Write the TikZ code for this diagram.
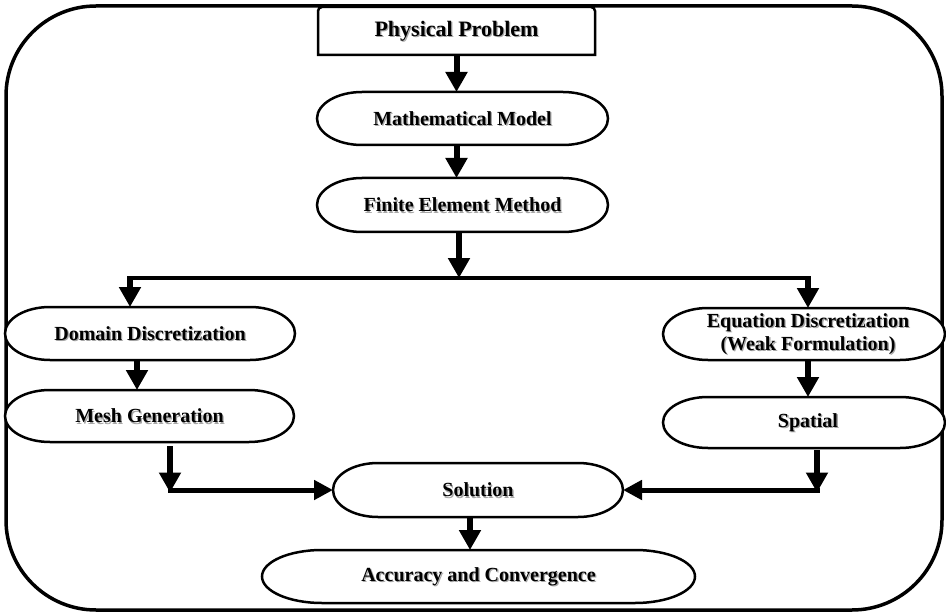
\documentclass[tikz,border=0pt]{standalone}
\usepackage{fontspec}
\setmainfont{Liberation Serif}
\usetikzlibrary{arrows.meta,calc}
\tikzset{
  lbl/.style={font=\bfseries\fontsize{20}{23}\selectfont, align=center, inner sep=0pt, outer sep=0pt},
  shadowtxt/.style={lbl, text=black!35, xshift=1.3pt, yshift=-1.3pt},
  boxline/.style={line width=2.5pt, fill=white},
  frame/.style={line width=3.5pt, rounded corners=90pt},
  arr/.style={line width=6pt, -{Triangle[length=20pt,width=21pt]}},
  harr/.style={line width=5pt, -{Triangle[length=19pt,width=19pt]}},
  bus/.style={line width=3.5pt},
}
\newcommand\stadium[2]{%
  \draw[boxline] let \p1=(#1.north east), \p2=(#1.south west), \n1={(\y1-\y2)/2} in
  (\x2+#2,\y1) -- (\x1-#2,\y1) arc[start angle=90,end angle=-90,x radius=#2,y radius=\n1]
  -- (\x2+#2,\y2) arc[start angle=270,end angle=90,x radius=#2,y radius=\n1] -- cycle;}
\newcommand\lab[3][]{%
  \node[shadowtxt,#1] at (#2) {#3};
  \node[lbl,#1] at (#2) {#3};}
\begin{document}
\begin{tikzpicture}[x=1pt,y=1pt]
\useasboundingbox (0,0) rectangle (946,-615);
\draw[frame] (6,-6) rectangle (942,-610);

% nodes
\node[lbl, minimum width=277pt, minimum height=48pt] (pp)  at (456.5,-31)   {};
\node[lbl, minimum width=291pt, minimum height=53pt] (mm)  at (462.5,-118.5){};
\node[lbl, minimum width=291pt, minimum height=54pt] (fem) at (462.5,-205)  {};
\node[lbl, minimum width=290pt, minimum height=53pt] (dd)  at (150,-333.5)  {};
\node[lbl, minimum width=289pt, minimum height=52pt] (mg)  at (149.5,-416)  {};
\node[lbl, minimum width=282pt, minimum height=52pt] (ed)  at (804,-334)    {};
\node[lbl, minimum width=282pt, minimum height=51pt] (sp)  at (804,-422.5)  {};
\node[lbl, minimum width=290pt, minimum height=54pt] (sol) at (478,-490)    {};
\node[lbl, minimum width=433pt, minimum height=53pt] (acc) at (478.5,-576.5){};

% shapes
\draw[boxline, rounded corners=4pt] (pp.south west) -- (pp.north west) -- (pp.north east) [sharp corners] -- (pp.south east) -- cycle;
\stadium{mm}{45pt}
\stadium{fem}{45pt}
\stadium{dd}{45pt}
\stadium{mg}{45pt}
\stadium{ed}{45pt}
\stadium{sp}{45pt}
\stadium{sol}{45pt}
\stadium{acc}{60pt}

% texts
\lab[font=\bfseries\fontsize{22}{25}\selectfont]{pp}{Physical Problem}
\lab{mm}{Mathematical Model}
\lab{fem}{Finite Element Method}
\lab{dd}{Domain Discretization}
\lab{mg}{Mesh Generation}
\lab[xshift=4pt]{ed}{Equation Discretization\\(Weak Formulation)}
\lab[xshift=4pt]{sp}{Spatial}
\lab{sol}{Solution}
\lab{acc}{Accuracy and Convergence}

% connectors
\coordinate (jc) at (459,-278);
\coordinate (jl) at (130,-278);
\coordinate (jr) at (808,-278);
\coordinate (cl) at (170,-490);
\coordinate (cr) at (817,-490);

\draw[arr] (pp.south) -- (pp.south |- mm.north);
\draw[arr] (mm.south -| pp.south) -- (pp.south |- fem.north);
\draw[arr] (fem.south -| jc) -- (jc);
\draw[bus] (jl) -- (jr);
\draw[arr] ([yshift=1.75pt]jl) -- (jl |- dd.north);
\draw[arr] ([yshift=1.75pt]jr) -- (jr |- ed.north);
\draw[arr] (dd.south -| 137,0) -- (mg.north -| 137,0);
\draw[arr] (ed.south -| jr) -- (sp.north -| jr);
\draw[arr] ([yshift=-4pt]mg.south -| cl) -- ([yshift=-2.5pt]cl);
\draw[harr] ([xshift=-2.5pt]cl) -- (sol.west);
\draw[arr] ([yshift=-2pt]sp.south -| cr) -- ([yshift=-2.5pt]cr);
\draw[harr] ([xshift=2.5pt]cr) -- (sol.east);
\draw[arr] (sol.south -| 470,0) -- (acc.north -| 470,0);
\end{tikzpicture}
\end{document}
